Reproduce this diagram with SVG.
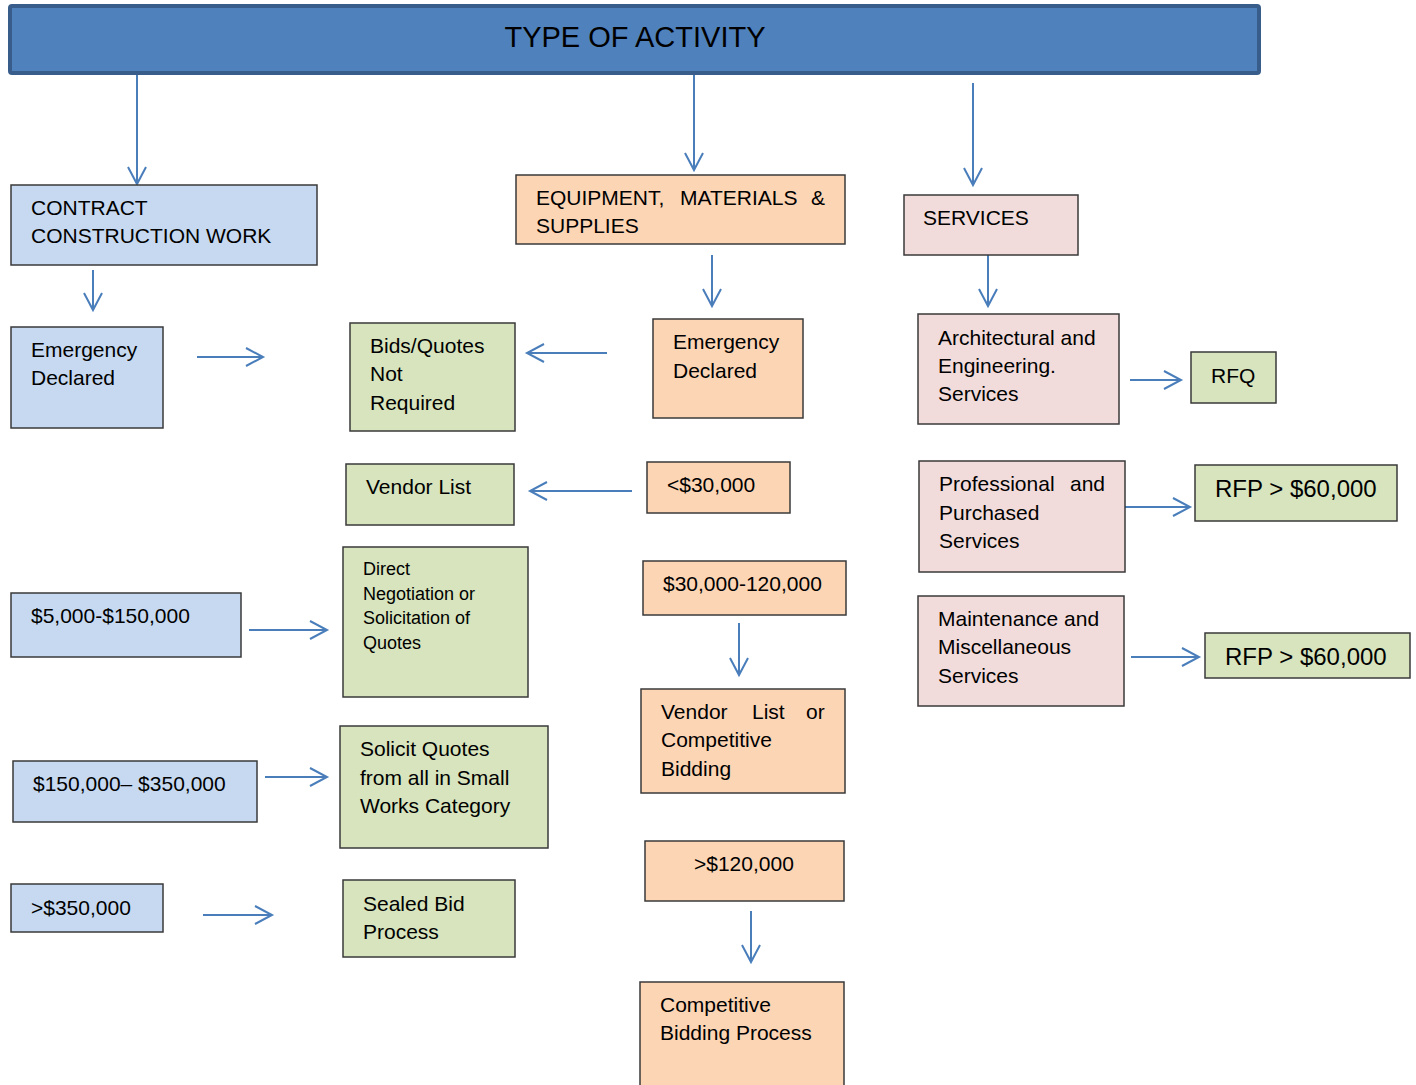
<svg xmlns="http://www.w3.org/2000/svg" width="1416" height="1085" viewBox="0 0 1416 1085">
<defs>
<marker id="ah" markerUnits="userSpaceOnUse" markerWidth="24" markerHeight="24" viewBox="-20 -12 24 24" refX="0" refY="0" orient="auto" overflow="visible">
<path d="M-17,-9 L0,0 L-17,9" fill="none" stroke="#4A7EBB" stroke-width="2"/>
</marker>
</defs>
<style>
text{font-family:"Liberation Sans",Arial,sans-serif;font-size:21px;fill:#000}
.b{stroke:#3a3a3a;stroke-width:1.5}
.blue{fill:#C6D9F1}.grn{fill:#D7E4BD}.org{fill:#FCD5B5}.pnk{fill:#F2DCDB}
.sm{font-size:18px}.lg{font-size:24px}
#conn line{stroke:#4A7EBB;stroke-width:2;marker-end:url(#ah)}
</style>
<rect width="1416" height="1085" fill="#fff"/>
<g id="top">
<rect x="10" y="6" width="1249" height="67" rx="2" fill="#4F81BD" stroke="#385D8A" stroke-width="4"/>
<text x="635" y="47" text-anchor="middle" style="font-size:29px">TYPE OF ACTIVITY</text>
</g>
<g id="conn">
<line x1="137" y1="75" x2="137" y2="184"/>
<line x1="694" y1="75" x2="694" y2="170"/>
<line x1="973" y1="83" x2="973" y2="185"/>
<line x1="93" y1="270" x2="93" y2="310"/>
<line x1="197" y1="357" x2="263" y2="357"/>
<line x1="607" y1="353" x2="527" y2="353"/>
<line x1="712" y1="255" x2="712" y2="306"/>
<line x1="988" y1="255" x2="988" y2="306"/>
<line x1="1130" y1="380" x2="1181" y2="380"/>
<line x1="1120" y1="507" x2="1190" y2="507"/>
<line x1="1131" y1="657" x2="1199" y2="657"/>
<line x1="632" y1="491" x2="530" y2="491"/>
<line x1="249" y1="630" x2="327" y2="630"/>
<line x1="739" y1="623" x2="739" y2="675"/>
<line x1="265" y1="777" x2="327" y2="777"/>
<line x1="203" y1="915" x2="272" y2="915"/>
<line x1="751" y1="911" x2="751" y2="962"/>
</g>
<g id="ccw"><rect class="b blue" x="11" y="185" width="306" height="80"/>
<text x="31" y="215">CONTRACT</text><text x="31" y="243">CONSTRUCTION WORK</text></g>
<g id="ed1"><rect class="b blue" x="11" y="327" width="152" height="101"/>
<text x="31" y="357">Emergency</text><text x="31" y="385">Declared</text></g>
<g id="bqnr"><rect class="b grn" x="350" y="323" width="165" height="108"/>
<text x="370" y="353">Bids/Quotes</text><text x="370" y="381">Not</text><text x="370" y="410">Required</text></g>
<g id="ems"><rect class="b org" x="516" y="175" width="329" height="69"/>
<text y="205"><tspan x="536">EQUIPMENT,</tspan><tspan x="680">MATERIALS</tspan><tspan x="811">&amp;</tspan></text>
<text x="536" y="233">SUPPLIES</text></g>
<g id="ed2"><rect class="b org" x="653" y="319" width="150" height="99"/>
<text x="673" y="349">Emergency</text><text x="673" y="378">Declared</text></g>
<g id="svc"><rect class="b pnk" x="904" y="195" width="174" height="60"/>
<text x="923" y="225">SERVICES</text></g>
<g id="ae"><rect class="b pnk" x="918" y="314" width="201" height="110"/>
<text x="938" y="345">Architectural and</text><text x="938" y="373">Engineering.</text><text x="938" y="401">Services</text></g>
<g id="rfq"><rect class="b grn" x="1191" y="352" width="85" height="51"/>
<text x="1211" y="383">RFQ</text></g>
<g id="pps"><rect class="b pnk" x="919" y="461" width="206" height="111"/>
<text y="491"><tspan x="939">Professional</tspan><tspan x="1070">and</tspan></text><text x="939" y="520">Purchased</text><text x="939" y="548">Services</text></g>
<g id="rfp1"><rect class="b grn" x="1195" y="465" width="202" height="56"/>
<text class="lg" x="1215" y="497">RFP &gt; $60,000</text></g>
<g id="mms"><rect class="b pnk" x="918" y="596" width="206" height="110"/>
<text x="938" y="626">Maintenance and</text><text x="938" y="654">Miscellaneous</text><text x="938" y="683">Services</text></g>
<g id="rfp2"><rect class="b grn" x="1205" y="633" width="205" height="45"/>
<text class="lg" x="1225" y="665">RFP &gt; $60,000</text></g>
<g id="vl"><rect class="b grn" x="346" y="464" width="168" height="61"/>
<text x="366" y="494">Vendor List</text></g>
<g id="lt30"><rect class="b org" x="647" y="462" width="143" height="51"/>
<text x="667" y="492">&lt;$30,000</text></g>
<g id="dn"><rect class="b grn" x="343" y="547" width="185" height="150"/>
<text class="sm" x="363" y="575">Direct</text><text class="sm" x="363" y="600">Negotiation or</text><text class="sm" x="363" y="624">Solicitation of</text><text class="sm" x="363" y="649">Quotes</text></g>
<g id="r5"><rect class="b blue" x="11" y="593" width="230" height="64"/>
<text x="31" y="623">$5,000-$150,000</text></g>
<g id="r30"><rect class="b org" x="643" y="561" width="203" height="54"/>
<text x="663" y="591">$30,000-120,000</text></g>
<g id="vlcb"><rect class="b org" x="641" y="689" width="204" height="104"/>
<text y="719"><tspan x="661">Vendor</tspan><tspan x="752">List</tspan><tspan x="806">or</tspan></text><text x="661" y="747">Competitive</text><text x="661" y="776">Bidding</text></g>
<g id="sq"><rect class="b grn" x="340" y="726" width="208" height="122"/>
<text x="360" y="756">Solicit Quotes</text><text x="360" y="785">from all in Small</text><text x="360" y="813">Works Category</text></g>
<g id="r150"><rect class="b blue" x="13" y="761" width="244" height="61"/>
<text x="33" y="791">$150,000– $350,000</text></g>
<g id="gt350"><rect class="b blue" x="11" y="884" width="152" height="48"/>
<text x="31" y="915">&gt;$350,000</text></g>
<g id="sbp"><rect class="b grn" x="343" y="880" width="172" height="77"/>
<text x="363" y="911">Sealed Bid</text><text x="363" y="939">Process</text></g>
<g id="gt120"><rect class="b org" x="645" y="841" width="199" height="60"/>
<text x="694" y="871">&gt;$120,000</text></g>
<g id="cbp"><rect class="b org" x="640" y="982" width="204" height="110"/>
<text x="660" y="1012">Competitive</text><text x="660" y="1040">Bidding Process</text></g>
</svg>
